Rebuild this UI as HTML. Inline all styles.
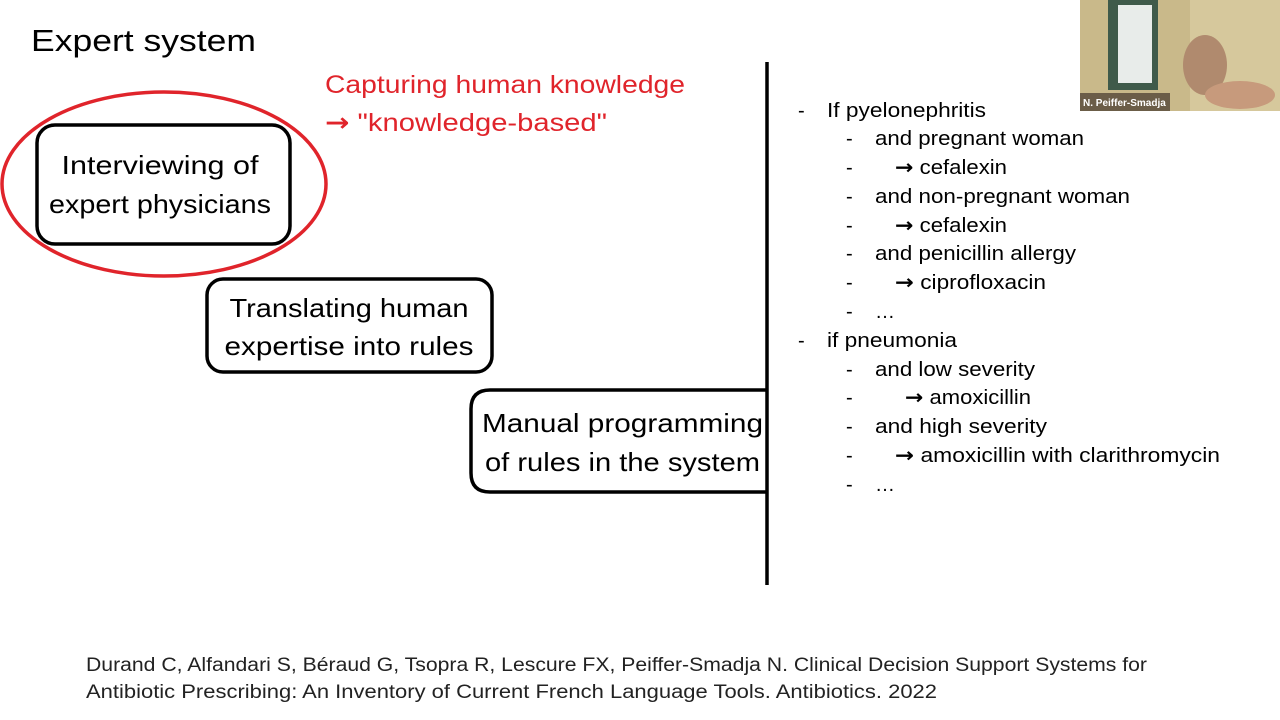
<!DOCTYPE html>
<html><head><meta charset="utf-8"><style>
html,body{margin:0;padding:0;background:#fff;}
svg{display:block;font-family:"Liberation Sans",sans-serif;}
.ar{font-family:"DejaVu Sans",sans-serif;font-weight:bold;}
</style></head><body>
<svg width="1280" height="720" viewBox="0 0 1280 720">
<rect width="1280" height="720" fill="#fff"/>
<text x="31" y="51" font-size="31" fill="#000" textLength="225" lengthAdjust="spacingAndGlyphs">Expert system</text>
<text x="325" y="93" font-size="25" fill="#e0242b" textLength="360" lengthAdjust="spacingAndGlyphs">Capturing human knowledge</text>
<text x="325" y="131" font-size="25" fill="#e0242b" textLength="282" lengthAdjust="spacingAndGlyphs"><tspan class="ar">→</tspan> "knowledge-based"</text>
<ellipse cx="164" cy="184" rx="162" ry="92" fill="none" stroke="#e0242b" stroke-width="3.5"/>
<rect x="37" y="125" width="253" height="119" rx="18" fill="none" stroke="#000" stroke-width="3.5"/>
<text x="160" y="174" font-size="26" text-anchor="middle" textLength="197" lengthAdjust="spacingAndGlyphs">Interviewing of</text>
<text x="160" y="213" font-size="26" text-anchor="middle" textLength="222" lengthAdjust="spacingAndGlyphs">expert physicians</text>
<rect x="207" y="279" width="285" height="93" rx="16" fill="none" stroke="#000" stroke-width="3.5"/>
<text x="349" y="317" font-size="26" text-anchor="middle" textLength="239" lengthAdjust="spacingAndGlyphs">Translating human</text>
<text x="349" y="355" font-size="26" text-anchor="middle" textLength="249" lengthAdjust="spacingAndGlyphs">expertise into rules</text>
<path d="M767 62 V585" stroke="#000" stroke-width="3.5" fill="none"/>
<path d="M767 390 H490 Q471 390 471 409 V473 Q471 492 490 492 H767" stroke="#000" stroke-width="3.5" fill="none"/>
<text x="482" y="432" font-size="26" textLength="281" lengthAdjust="spacingAndGlyphs">Manual programming</text>
<text x="485" y="471" font-size="26" textLength="275" lengthAdjust="spacingAndGlyphs">of rules in the system</text>
<g font-size="20" fill="#000">
<text x="798" y="117">-</text><text x="827" y="117" textLength="159" lengthAdjust="spacingAndGlyphs">If pyelonephritis</text>
<text x="846" y="145">-</text><text x="875" y="145" textLength="209" lengthAdjust="spacingAndGlyphs">and pregnant woman</text>
<text x="846" y="174">-</text><text x="895" y="174" textLength="112" lengthAdjust="spacingAndGlyphs"><tspan class="ar">→</tspan> cefalexin</text>
<text x="846" y="203">-</text><text x="875" y="203" textLength="255" lengthAdjust="spacingAndGlyphs">and non-pregnant woman</text>
<text x="846" y="232">-</text><text x="895" y="232" textLength="112" lengthAdjust="spacingAndGlyphs"><tspan class="ar">→</tspan> cefalexin</text>
<text x="846" y="260">-</text><text x="875" y="260" textLength="201" lengthAdjust="spacingAndGlyphs">and penicillin allergy</text>
<text x="846" y="289">-</text><text x="895" y="289" textLength="151" lengthAdjust="spacingAndGlyphs"><tspan class="ar">→</tspan> ciprofloxacin</text>
<text x="846" y="318">-</text><text x="875" y="318">…</text>
<text x="798" y="347">-</text><text x="827" y="347" textLength="130" lengthAdjust="spacingAndGlyphs">if pneumonia</text>
<text x="846" y="376">-</text><text x="875" y="376" textLength="160" lengthAdjust="spacingAndGlyphs">and low severity</text>
<text x="846" y="404">-</text><text x="905" y="404" textLength="126" lengthAdjust="spacingAndGlyphs"><tspan class="ar">→</tspan> amoxicillin</text>
<text x="846" y="433">-</text><text x="875" y="433" textLength="172" lengthAdjust="spacingAndGlyphs">and  high severity</text>
<text x="846" y="462">-</text><text x="895" y="462" textLength="325" lengthAdjust="spacingAndGlyphs"><tspan class="ar">→</tspan> amoxicillin with clarithromycin</text>
<text x="846" y="491">-</text><text x="875" y="491">…</text>
</g>
<text x="86" y="671" font-size="19" fill="#222" textLength="1061" lengthAdjust="spacingAndGlyphs">Durand C, Alfandari S, Béraud G, Tsopra R, Lescure FX, Peiffer-Smadja N. Clinical Decision Support Systems for</text>
<text x="86" y="698" font-size="19" fill="#222" textLength="851" lengthAdjust="spacingAndGlyphs">Antibiotic Prescribing: An Inventory of Current French Language Tools. Antibiotics. 2022</text>
<g>
<rect x="1080" y="0" width="200" height="111" fill="#c9b98a"/>
<rect x="1108" y="0" width="50" height="90" fill="#3f5a4a"/>
<rect x="1118" y="5" width="34" height="78" fill="#e8ecea"/>
<rect x="1190" y="0" width="90" height="111" fill="#d6c89c"/>
<ellipse cx="1205" cy="65" rx="22" ry="30" fill="#b08a6e"/>
<ellipse cx="1240" cy="95" rx="35" ry="14" fill="#c79a7c"/>
<rect x="1080" y="93" width="90" height="18" fill="#6b5d48"/>
<text x="1083" y="106" font-size="10" font-weight="bold" fill="#fff">N. Peiffer-Smadja</text>
</g>
</svg>
</body></html>
